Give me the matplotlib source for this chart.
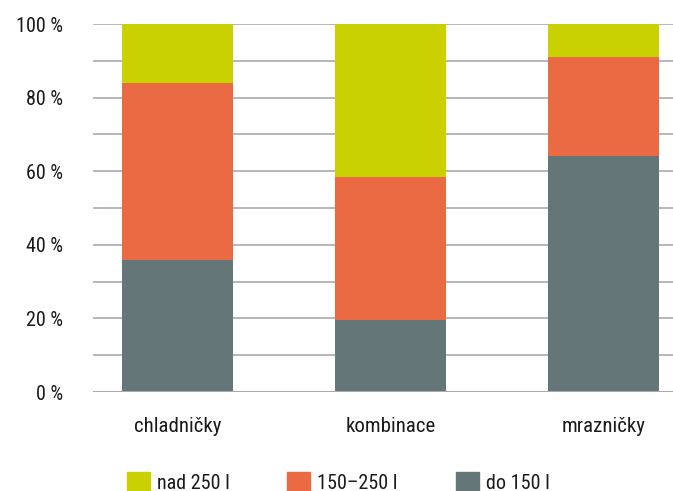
import matplotlib
matplotlib.use('agg')
import matplotlib.pyplot as plt
from matplotlib.patches import Patch

categories = ['chladničky', 'kombinace', 'mrazničky']
do_150 = [36, 19.5, 64]
mid_150_250 = [48, 39, 27]
nad_250 = [16, 41.5, 9]
series_labels = ['nad 250 l', '150–250 l', 'do 150 l']
yticks = [0, 20, 40, 60, 80, 100]

colors = {'do': '#647678', 'mid': '#EA6A43', 'nad': '#C9D200'}
text_color = '#1a1a1a'

plt.rcParams['font.family'] = ['Roboto Condensed', 'DejaVu Sans']

fig = plt.figure(figsize=(6.73, 4.91), dpi=100)
ax = fig.add_axes([0.138, 0.2016, 0.862, 0.7495])

x = list(range(len(categories)))
w = 0.52
bottom2 = [a + b for a, b in zip(do_150, mid_150_250)]
ax.bar(x, do_150, w, color=colors['do'], zorder=2)
ax.bar(x, mid_150_250, w, bottom=do_150, color=colors['mid'], zorder=2)
ax.bar(x, nad_250, w, bottom=bottom2, color=colors['nad'], zorder=2)

ax.set_xlim(-0.397, 2.324)
ax.set_ylim(0, 100)
ax.set_yticks(yticks)
ax.set_yticklabels([f'{t} %' for t in yticks], fontsize=14.5, color=text_color)
ax.set_yticks(range(10, 100, 20), minor=True)
ax.set_xticks(x)
ax.set_xticklabels(categories, fontsize=15, color=text_color)
ax.tick_params(axis='y', length=0, pad=21.5, which='both')
ax.tick_params(axis='x', length=0, pad=18)
ax.grid(axis='y', which='both', color='#aaaaaa', linewidth=1.2, zorder=0)
for s in ax.spines.values():
    s.set_visible(False)
ax.axhline(0, color='#aaaaaa', linewidth=1.5, zorder=3)

# legend: one entry each, placed like the reference
leg_x = [0.1887, 0.4265, 0.6776]
for key, lab, lx in zip(['nad', 'mid', 'do'], series_labels, leg_x):
    fig.legend([Patch(color=colors[key])], [lab], loc='center left',
               bbox_to_anchor=(lx, 0.018), frameon=False, fontsize=14.5,
               handlelength=1.14, handleheight=1.14, handletextpad=0.35,
               borderpad=0, borderaxespad=0, labelcolor=text_color)

fig.savefig('out.png', dpi=100)
